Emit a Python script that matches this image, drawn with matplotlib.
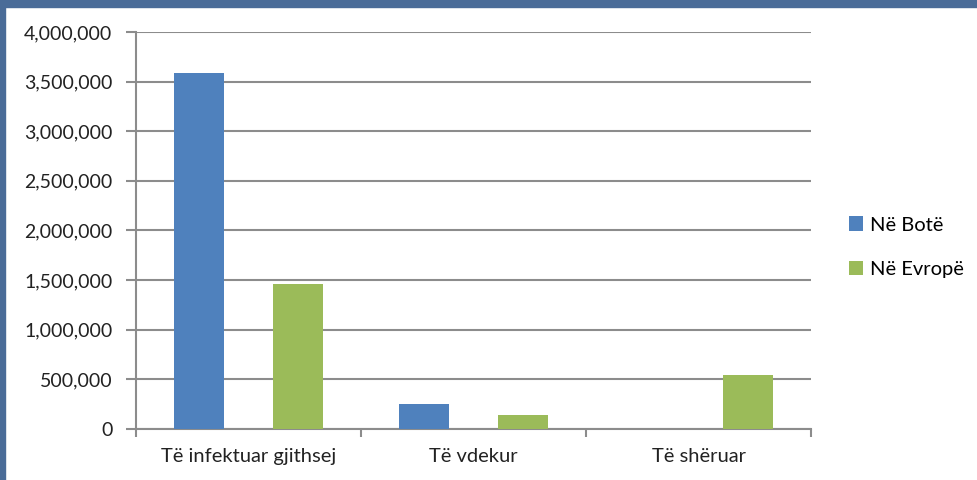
import matplotlib.pyplot as plt
import numpy as np
from matplotlib.patches import Rectangle
from matplotlib.ticker import FuncFormatter

categories = ["Të infektuar gjithsej", "Të vdekur", "Të shëruar"]
world = [3590000, 250000, 0]
europe = [1460000, 140000, 545000]
series_names = ["Në Botë", "Në Evropë"]
colors = ["#4f81bd", "#9bbb59"]

plt.rcParams['font.family'] = ['Lato', 'DejaVu Sans']

fig = plt.figure(figsize=(9.77, 4.8), dpi=100)
fig.patch.set_facecolor('white')
ax = fig.add_axes([0.1392, 0.10625, 0.6909, 0.8271])

x = np.arange(len(categories))
w = 0.222
ax.bar(x - w, world, w, color=colors[0], label=series_names[0], zorder=3)
ax.bar(x + w, europe, w, color=colors[1], label=series_names[1], zorder=3)

ax.set_xlim(-0.5, len(categories) - 0.5)
ax.set_ylim(0, 4000000)
ax.set_yticks(np.arange(0, 4000001, 500000))
ax.yaxis.set_major_formatter(FuncFormatter(lambda v, p: f"{int(v):,}"))
ax.set_xticks(x)
ax.set_xticklabels(categories)
ax.set_xticks(np.arange(-0.5, len(categories), 1), minor=True)
ax.tick_params(axis='x', which='major', length=0, pad=14, labelsize=14.5, colors='#222222')
ax.tick_params(axis='x', which='minor', length=6, width=1.5, color='#8c8c8c')
ax.tick_params(axis='y', length=7, width=1.5, color='#8c8c8c', labelsize=14, labelcolor='#222222', pad=10)

ax.grid(axis='y', color='#8c8c8c', linewidth=1.5, zorder=0)
for s in ['top', 'right']:
    ax.spines[s].set_visible(False)
for s in ['left', 'bottom']:
    ax.spines[s].set_color('#8c8c8c')
    ax.spines[s].set_linewidth(1.5)

ax.legend(loc='center left', bbox_to_anchor=(1.03, 0.458), frameon=False,
          fontsize=14.5, handlelength=0.7, handleheight=0.7, labelspacing=1.35,
          handletextpad=0.3)

# frame bands at top and left
fig.patches.append(Rectangle((0, 1 - 7 / 480), 1, 7 / 480, transform=fig.transFigure,
                             color='#4a6c98', zorder=10))
fig.patches.append(Rectangle((0, 0), 5 / 977, 1, transform=fig.transFigure,
                             color='#4a6c98', zorder=10))

plt.savefig('out.png', dpi=100)
